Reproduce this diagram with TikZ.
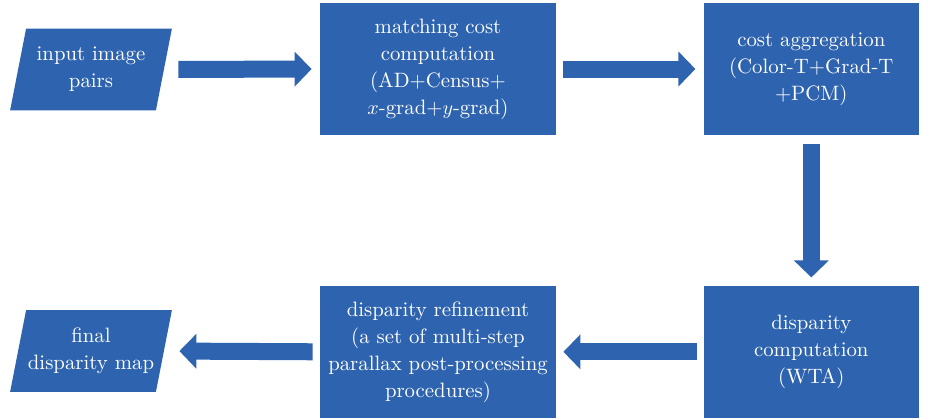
\documentclass[tikz,border=0pt]{standalone}
\usepackage{xcolor}
\usepackage{tikz}
\usetikzlibrary{arrows.meta, positioning, backgrounds}

\definecolor{flowblue}{RGB}{46,99,175}

\begin{document}
\begin{tikzpicture}[x=0.5pt, y=-0.5pt,
    procbox/.style={rectangle, fill=flowblue, text=white, inner sep=0pt,
                    minimum width=118pt, minimum height=66pt, align=center,
                    font=\fontsize{10.4}{13.5}\selectfont},
    iobox/.style={rectangle, text=white, inner sep=0pt,
                  minimum width=72.5pt, minimum height=40.5pt, align=center,
                  font=\fontsize{10.4}{13.5}\selectfont},
    slantfill/.style={fill=flowblue},
    blockarrow/.style={draw=flowblue, line width=8.5pt,
                       -{Triangle[width=17pt 0 0, length=8.5pt 0 0]}}
]
\useasboundingbox (0,0) rectangle (930,419);
\node[iobox] (inp) at (91,69.5) {input image\\pairs};
\node[procbox] (mcc) at (438,69) {matching cost\\computation\\(AD+Census+\\$x$-grad+$y$-grad)};
\node[procbox, minimum width=107.5pt, right=73.5pt of mcc] (agg) {cost aggregation\\(Color-T+Grad-T\\+PCM)};
\node[procbox, minimum width=107.5pt, below=75pt of agg] (wta) {disparity\\computation\\(WTA)};
\node[procbox, left=73.5pt of wta] (ref) {disparity refinement\\(a set of multi-step\\parallax post-processing\\procedures)};
\node[iobox] (fin) at (91,351) {final\\disparity map};
% slanted input/output shapes
\begin{scope}[on background layer]
  \foreach \n in {inp,fin}
    \fill[slantfill] ([xshift=4pt]\n.north west) -- ([xshift=4pt]\n.north east)
      -- ([xshift=-4pt]\n.south east) -- ([xshift=-4pt]\n.south west) -- cycle;
\end{scope}
\draw[blockarrow, shorten <=7.25pt, shorten >=4pt] (inp.east) -- (mcc.west);
\draw[blockarrow, shorten <=3.5pt, shorten >=4pt] (mcc.east) -- (agg.west);
\draw[blockarrow, shorten <=4.5pt, shorten >=4pt] (agg.south) -- (wta.north);
\draw[blockarrow, shorten <=3pt, shorten >=3.5pt] (wta.west) -- (ref.east);
\draw[blockarrow, shorten <=3.5pt, shorten >=7.75pt] (ref.west) -- (fin.east);
\end{tikzpicture}
\end{document}
